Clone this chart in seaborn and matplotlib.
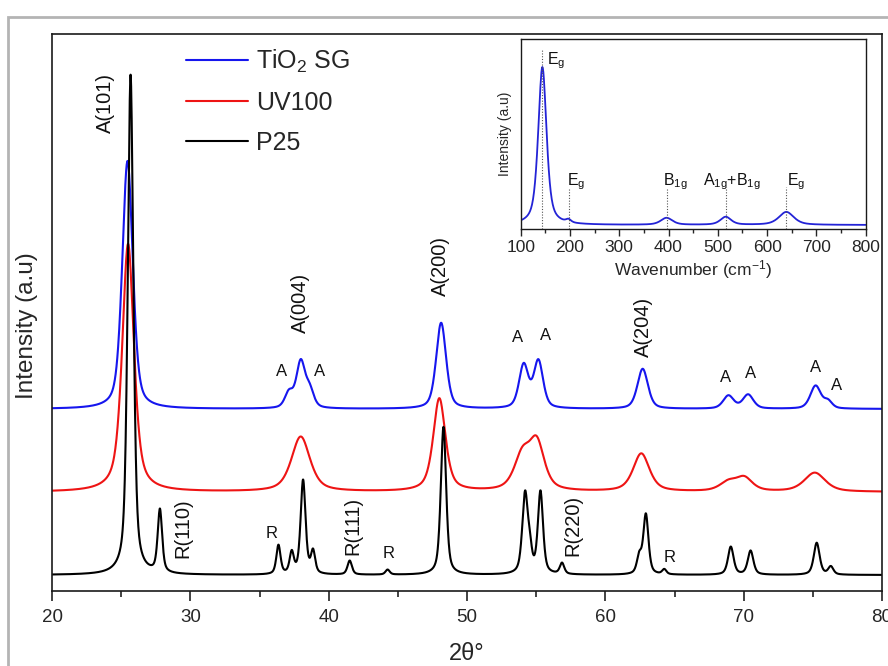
import numpy as np
import pandas as pd
import seaborn as sns
import matplotlib
matplotlib.use("Agg")
import matplotlib.pyplot as plt
from matplotlib.patches import Rectangle

# ---------------- data ----------------
# XRD peaks: position (2theta, deg), height above baseline (a.u.), FWHM (deg)
p25_pos = [25.68, 27.80, 36.37, 37.33, 38.15, 38.87, 41.52, 44.26, 48.30,
           54.20, 54.55, 55.31, 56.87, 62.45, 62.93, 64.26, 69.07, 70.50, 75.28, 76.30]
p25_amp = [500, 63, 29, 21, 94, 22, 14, 5, 148,
           80, 18, 82, 11, 17, 60, 5, 28, 24, 32, 8]
p25_fwhm = [0.48, 0.38, 0.36, 0.36, 0.42, 0.36, 0.38, 0.36, 0.46,
            0.48, 0.36, 0.44, 0.38, 0.40, 0.44, 0.36, 0.48, 0.48, 0.50, 0.44]
p25_base = 16

uv_pos = [25.50, 37.98, 48.00, 54.00, 55.05, 62.60, 68.90, 70.05, 75.14]
uv_amp = [248, 55, 93, 34, 46, 38, 9, 13, 19]
uv_fwhm = [1.00, 1.60, 1.05, 1.40, 1.30, 1.40, 1.50, 1.40, 1.80]
uv_base = 99

sg_pos = [25.46, 37.13, 37.98, 38.63, 48.13, 54.10, 55.16, 62.70, 68.90, 70.32, 75.20, 76.10]
sg_amp = [248, 15, 46, 17, 86, 43, 47, 40, 13, 14, 23, 7]
sg_fwhm = [0.90, 0.70, 0.75, 0.70, 0.85, 0.80, 0.80, 0.90, 0.90, 0.90, 0.90, 0.70]
sg_base = 182

series_names = ["TiO$_2$ SG", "UV100", "P25"]
series_colors = ["#1616ee", "#ee1414", "#000000"]

# Raman inset peaks: position (cm-1), height above baseline, FWHM (cm-1)
raman_pos = [144, 197, 396, 516, 639]
raman_amp = [158, 3, 7, 8, 13]
raman_fwhm = [20, 12, 28, 26, 36]
raman_base = 4
raman_labels = [r"E$_\mathrm{g}$", r"E$_\mathrm{g}$", r"B$_\mathrm{1g}$",
                r"A$_\mathrm{1g}$+B$_\mathrm{1g}$", r"E$_\mathrm{g}$"]
raman_label_x = [153, 194, 389, 470, 640]
raman_label_y = [168, 47, 47, 47, 47]
raman_line_top = [179, 40, 40, 42, 42]

# peak annotations in main plot (x, y, text)
rot_labels = [(23.83, 488, "A(101)"), (37.93, 288, "A(004)"), (48.06, 325, "A(200)"),
              (62.75, 264, "A(204)"), (29.47, 63, "R(110)"), (41.76, 65, "R(111)"),
              (57.66, 66, "R(220)")]
flat_labels = [(36.60, 219, "A"), (39.37, 219, "A"), (53.64, 254, "A"), (55.69, 256, "A"),
               (68.72, 214, "A"), (70.53, 217, "A"), (75.21, 223, "A"), (76.73, 205, "A"),
               (35.88, 58, "R"), (44.31, 37, "R"), (64.63, 34, "R")]


def pv(x, pos, amp, fwhm, eta):
    y = np.zeros_like(x)
    for p, a, w in zip(pos, amp, fwhm):
        hw = w / 2.0
        lor = 1.0 / (1.0 + ((x - p) / hw) ** 2)
        gau = np.exp(-np.log(2) * ((x - p) / hw) ** 2)
        y += a * (eta * lor + (1 - eta) * gau)
    return y


tt = np.arange(20.0, 80.0001, 0.02)
curves = []
for name, pos, amp, fw, base, eta in [
        (series_names[0], sg_pos, sg_amp, sg_fwhm, sg_base, 0.45),
        (series_names[1], uv_pos, uv_amp, uv_fwhm, uv_base, 0.6),
        (series_names[2], p25_pos, p25_amp, p25_fwhm, p25_base, 0.55)]:
    curves.append(pd.DataFrame({"two_theta": tt,
                                "intensity": base + pv(tt, pos, amp, fw, eta),
                                "sample": name}))
df = pd.concat(curves, ignore_index=True)

wn = np.arange(100.0, 800.001, 1.0)
raman_df = pd.DataFrame({"wavenumber": wn,
                         "intensity": raman_base + pv(wn, raman_pos, raman_amp, raman_fwhm, 0.6)})

# ---------------- styling ----------------
sns.set_theme(style="ticks")
plt.rcParams["font.family"] = ["Liberation Sans", "DejaVu Sans"]
plt.rcParams["mathtext.fontset"] = "custom"
plt.rcParams["mathtext.rm"] = "Liberation Sans"
plt.rcParams["mathtext.it"] = "Liberation Sans:italic"
plt.rcParams["mathtext.bf"] = "Liberation Sans:bold"

fig = plt.figure(figsize=(8.88, 6.66), dpi=100, facecolor="white")
fig.patches.append(Rectangle((8 / 888, -0.1), 1.2, 1 - 17 / 666 + 0.1,
                             transform=fig.transFigure, fill=False,
                             edgecolor="#b4b4b4", lw=2.0, zorder=0))

ax = fig.add_axes([52 / 888, 1 - 591 / 666, 830 / 888, 557 / 666])
ax.set_facecolor("white")
for name, color in zip(series_names, series_colors):
    sub = df[df["sample"] == name]
    sns.lineplot(data=sub, x="two_theta", y="intensity", color=color, lw=1.5,
                 ax=ax, label=name, estimator=None, sort=False)

ax.set_xlim(20, 80)
ax.set_ylim(0, 557)
ax.set_xticks(np.arange(20, 81, 10))
ax.set_xticks(np.arange(25, 80, 10), minor=True)
ax.set_yticks([])
ax.tick_params(axis="x", which="major", direction="out", length=7, width=1.2,
               labelsize=13.5, pad=6, color="#222222")
ax.tick_params(axis="x", which="minor", direction="out", length=4, width=1.2, color="#222222")
for s in ax.spines.values():
    s.set_visible(True)
    s.set_linewidth(1.2)
    s.set_color("#1a1a1a")
ax.set_xlabel("2θ°", fontsize=17, labelpad=12)
ax.set_ylabel("Intensity (a.u)", fontsize=17.5)
ax.yaxis.set_label_coords(-0.017, 0.476)

leg = ax.legend(loc="upper left", bbox_to_anchor=(0.161, 0.976), frameon=False,
                fontsize=18, handlelength=2.5, handletextpad=0.3,
                labelspacing=0.65, borderpad=0, borderaxespad=0)
for line in leg.get_lines():
    line.set_linewidth(1.5)

for x, y, t in rot_labels:
    ax.text(x, y, t, rotation=90, ha="center", va="center", fontsize=14.5, color="#111111")
for x, y, t in flat_labels:
    ax.text(x, y, t, ha="center", va="center", fontsize=12, color="#111111")

# ---------------- inset ----------------
axi = fig.add_axes([520.7 / 888, 1 - 229 / 666, 345 / 888, 190 / 666])
axi.set_facecolor("white")
sns.lineplot(data=raman_df, x="wavenumber", y="intensity", color="#2323d6",
             lw=1.3, ax=axi, estimator=None, sort=False)
axi.vlines(raman_pos, 0, raman_line_top, colors="#555555", linestyles=(0, (1, 1.5)), lw=0.8)
for x, y, t in zip(raman_label_x, raman_label_y, raman_labels):
    axi.text(x, y, t, ha="left", va="center", fontsize=11.5, color="#111111")
axi.set_xlim(100, 800)
axi.set_ylim(0, 190)
axi.set_xticks(np.arange(100, 801, 100))
axi.set_xticks(np.arange(150, 800, 100), minor=True)
axi.set_yticks([])
axi.tick_params(axis="x", which="major", direction="out", length=5, width=1.0,
                labelsize=12.5, pad=3)
axi.tick_params(axis="x", which="minor", direction="out", length=3, width=1.0)
for s in axi.spines.values():
    s.set_visible(True)
    s.set_linewidth(1.0)
    s.set_color("#1a1a1a")
axi.set_xlabel("Wavenumber (cm$^{-1}$)", fontsize=12.5, labelpad=2)
axi.set_ylabel("Intensity (a.u)", fontsize=10, labelpad=6)

fig.savefig("out.png", dpi=100, facecolor="white")
